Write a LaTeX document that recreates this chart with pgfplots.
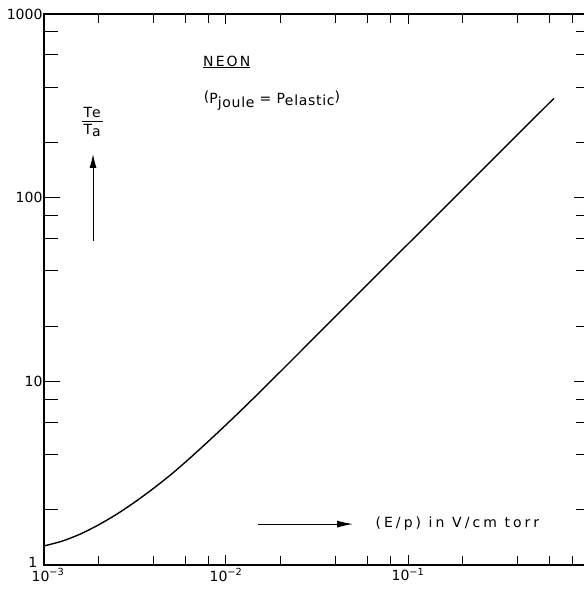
\documentclass[border=0pt]{standalone}
\usepackage{fontspec}
\setmainfont{DejaVu Sans}
\newfontfamily\lsA[LetterSpace=15]{DejaVu Sans}
\newfontfamily\lsC[LetterSpace=22]{DejaVu Sans}
\newfontfamily\lsB[LetterSpace=5]{DejaVu Sans}
\usepackage{pgfplots}
\pgfplotsset{compat=1.18}
\usetikzlibrary{arrows.meta}
\begin{document}
\begin{tikzpicture}
\begin{axis}[
  at={(0,0)}, anchor=south west,
  scale only axis, width=546pt, height=551pt,
  xmode=log, ymode=log,
  xmin=1e-3, xmax=1, ymin=1, ymax=1000,
  xtick={1e-3,1e-2,1e-1},
  xticklabels={\hspace*{8pt}10\textsuperscript{−3},10\textsuperscript{−2},10\textsuperscript{−1}},
  ytick={1,10,100,1000},
  yticklabels={\raisebox{5pt}{\makebox[14pt][l]{1}},10,100,1000},
  minor xtick={2e-3,4e-3,6e-3,8e-3,2e-2,4e-2,6e-2,8e-2,0.2,0.4,0.6,0.8},
  minor ytick={2,4,6,8,20,40,60,80,200,400,600,800},
  tick align=inside,
  major tick length=14pt, minor tick length=13pt,
  tick style={black, line width=1pt},
  xtick style={/pgfplots/major tick length=10pt,/pgfplots/minor tick length=9pt},
  ytick style={/pgfplots/major tick length=16pt,/pgfplots/minor tick length=14pt},
  axis line style={line width=1.2pt},
  ticklabel style={font=\fontsize{14}{16}\selectfont},
  yticklabel style={xshift=2pt},
  /pgf/number format/assume math mode=true,
  clip=false,
]
\addplot[black, line width=1.4pt, smooth, tension=0.5] coordinates {
 (0.001,1.27) (0.001259,1.349) (0.001585,1.475) (0.001995,1.654)
 (0.002512,1.892) (0.003162,2.204) (0.003981,2.606) (0.005012,3.122)
 (0.00631,3.806) (0.007943,4.683) (0.01,5.799) (0.01259,7.218)
 (0.01585,9.025) (0.024,13.6) (0.057,32.1) (0.13,72.5) (0.25,138.5) (0.634,347.6)
};
\node[font=\fontsize{14}{16}\lsA] at (axis cs:0.0101,548) {\underline{NEON}};
\node[font=\fontsize{14}{16}\lsB] at (axis cs:0.0179,337)
  {\raisebox{2pt}{(}P\raisebox{-4pt}{joule} = P\raisebox{-2pt}{elastic}\raisebox{2pt}{)}};
\node[font=\fontsize{14}{16}\lsA, inner sep=0pt] at (axis cs:0.00184,256)
  {\begin{tabular}{@{\hspace{2pt}}c@{\hspace{2pt}}}Te\\[-1pt]\hline\rule{0pt}{13pt}T\raisebox{-2pt}{a}\end{tabular}};
\draw[-{Latex[length=14pt,width=7pt]}, line width=1pt]
  (axis cs:0.00186,58.4) -- (axis cs:0.00186,173);
\draw[-{Latex[length=16pt,width=7pt]}, line width=1pt]
  (axis cs:0.015,1.67) -- (axis cs:0.0499,1.67);
\node[anchor=west, font=\fontsize{14}{16}\lsC] at (axis cs:0.0634,1.67) {(E/p) in V/cm torr};
\end{axis}
\pgfresetboundingbox
\path[use as bounding box] (-44pt,-28pt) rectangle (539pt,565pt);
\end{tikzpicture}
\end{document}
